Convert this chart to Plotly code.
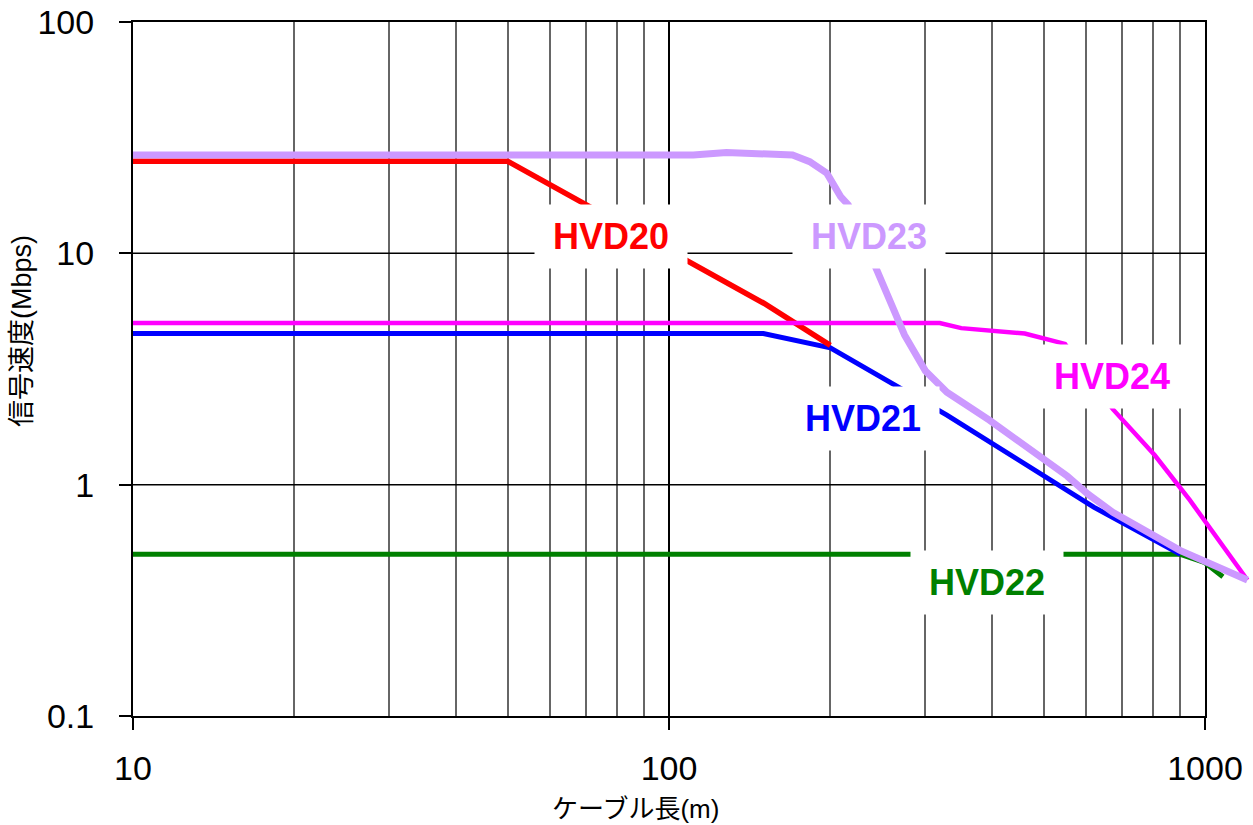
import numpy as np
import plotly.graph_objects as go

# ---- data ----
hvd20_x = [10, 50, 150, 200]
hvd20_y = [25, 25, 6.1, 4.0]

hvd21_x = [10, 150, 200, 330, 620, 900]
hvd21_y = [4.5, 4.5, 3.9, 2.0, 0.8, 0.5]

hvd22_x = [10, 900, 1000, 1080]
hvd22_y = [0.5, 0.5, 0.46, 0.4]

hvd23_x = [10, 111, 128, 148, 170, 183, 197, 209, 216, 244, 262, 275, 301, 330,
           396, 490, 553, 605, 673, 898, 1200]
hvd23_y = [26.6, 26.6, 27.3, 27.1, 26.6, 24.9, 22.2, 17.6, 16.2, 8.5, 5.9, 4.44,
           3.10, 2.51, 1.90, 1.34, 1.09, 0.91, 0.76, 0.52, 0.387]

hvd24_x = [10, 320, 351, 461, 548, 673, 806, 937, 1200]
hvd24_y = [5.0, 5.0, 4.75, 4.5, 4.06, 2.12, 1.34, 0.857, 0.387]

series_names = ["HVD22", "HVD21", "HVD20", "HVD24", "HVD23"]
series_colors = {"HVD20": "#FF0000", "HVD21": "#0000FF", "HVD22": "#008000",
                 "HVD23": "#CC99FF", "HVD24": "#FF00FF"}
series_widths = {"HVD20": 5.5, "HVD21": 5, "HVD22": 5, "HVD23": 7, "HVD24": 4.5}
series_data = {"HVD20": (hvd20_x, hvd20_y), "HVD21": (hvd21_x, hvd21_y),
               "HVD22": (hvd22_x, hvd22_y), "HVD23": (hvd23_x, hvd23_y),
               "HVD24": (hvd24_x, hvd24_y)}

# label positions (data coords of label box centres)
label_names = ["HVD20", "HVD23", "HVD24", "HVD21", "HVD22"]
label_x = [77.95, 236.1, 670.8, 230.1, 392.1]
label_y = [11.82, 11.82, 2.934, 1.931, 0.3773]

x_tick_vals = [10, 100, 1000]
x_tick_text = ["10", "100", "1000"]
x_minor_vals = [20, 30, 40, 50, 60, 70, 80, 90, 200, 300, 400, 500, 600, 700, 800, 900]
y_tick_vals = [0.1, 1, 10, 100]
y_tick_text = ["0.1", "1", "10", "100"]
y_grid_vals = [1, 10]

x_title = "ケーブル長(m)"
y_title = "信号速度(Mbps)"

# ---- geometry (page body margin removed via post_script) ----
W, H = 1253, 825
ML, MR, MT, MB = 133, 3, 22, 109
plot_w = W - ML - MR
plot_h = H - MT - MB
axis_px = 1072  # pixel width of the framed 10..1000 area
dom_end = axis_px / plot_w
x2_end = 1 + 2 * plot_w / axis_px

FONT = "Liberation Sans, Arial, Noto Sans CJK JP, sans-serif"

fig = go.Figure()

# horizontal grid lines (only inside framed area)
gx, gy = [], []
for v in y_grid_vals:
    gx += [x_tick_vals[0], x_tick_vals[-1], None]
    gy += [v, v, None]
fig.add_trace(go.Scatter(x=gx, y=gy, mode="lines", xaxis="x", yaxis="y",
                         line=dict(color="black", width=1.5),
                         hoverinfo="skip", showlegend=False))

for name in series_names:
    xs, ys = series_data[name]
    fig.add_trace(go.Scatter(x=xs, y=ys, mode="lines", name=name,
                             xaxis="x2", yaxis="y",
                             line=dict(color=series_colors[name],
                                       width=series_widths[name]),
                             showlegend=False))

annotations = []
for name, lx, ly in zip(label_names, label_x, label_y):
    annotations.append(dict(
        x=np.log10(lx), y=np.log10(ly), xref="x", yref="y",
        text="<b>" + name + "</b>", showarrow=False,
        font=dict(family=FONT, size=36, color=series_colors[name]),
        bgcolor="white", width=152, height=63, borderpad=0,
        xanchor="center", yanchor="middle"))

# axis titles (screen px -> paper)
annotations.append(dict(
    x=(22 - ML) / plot_w, y=1 - (331 - MT) / plot_h,
    xref="paper", yref="paper", text=y_title, textangle=-90, showarrow=False,
    font=dict(family=FONT, size=27, color="black"),
    xanchor="center", yanchor="middle"))
annotations.append(dict(
    x=(635 - ML) / plot_w, y=1 - (809 - MT) / plot_h,
    xref="paper", yref="paper", text=x_title, showarrow=False,
    font=dict(family=FONT, size=26, color="black"),
    xanchor="center", yanchor="middle"))

fig.update_layout(
    width=W, height=H,
    margin=dict(l=ML, r=MR, t=MT, b=MB, autoexpand=False),
    paper_bgcolor="white", plot_bgcolor="rgba(0,0,0,0)",
    showlegend=False,
    font=dict(family=FONT, color="black"),
    annotations=annotations,
    xaxis=dict(
        type="log", domain=[0, dom_end], range=[1, 3], anchor="y",
        tickvals=x_tick_vals, ticktext=x_tick_text,
        ticks="outside", ticklen=12, tickwidth=1.5, tickcolor="black",
        ticklabelstandoff=9, ticklabeloverflow="allow",
        tickfont=dict(family=FONT, size=34, color="black"),
        showline=True, linecolor="black", linewidth=2, mirror=True,
        showgrid=True, gridcolor="black", gridwidth=1.5,
        minor=dict(tickvals=x_minor_vals, showgrid=True, gridcolor="#666666",
                   gridwidth=1.6, ticks=""),
        zeroline=False, fixedrange=True,
    ),
    xaxis2=dict(
        type="log", domain=[0, 1], range=[1, x2_end], anchor="y",
        visible=False, showgrid=False, fixedrange=True,
    ),
    yaxis=dict(
        type="log", domain=[0, 1], range=[-1, 2], anchor="x",
        tickvals=y_tick_vals, ticktext=y_tick_text,
        ticks="outside", ticklen=12, tickwidth=1.5, tickcolor="black",
        ticklabelstandoff=18, ticklabeloverflow="allow",
        tickfont=dict(family=FONT, size=34, color="black"),
        showline=True, linecolor="black", linewidth=2, mirror=True,
        showgrid=False, zeroline=False, fixedrange=True,
    ),
)

fig.write_html("out.html",
               config={"displayModeBar": False},
               post_script="document.body.style.margin='0';document.body.style.overflow='hidden';")
